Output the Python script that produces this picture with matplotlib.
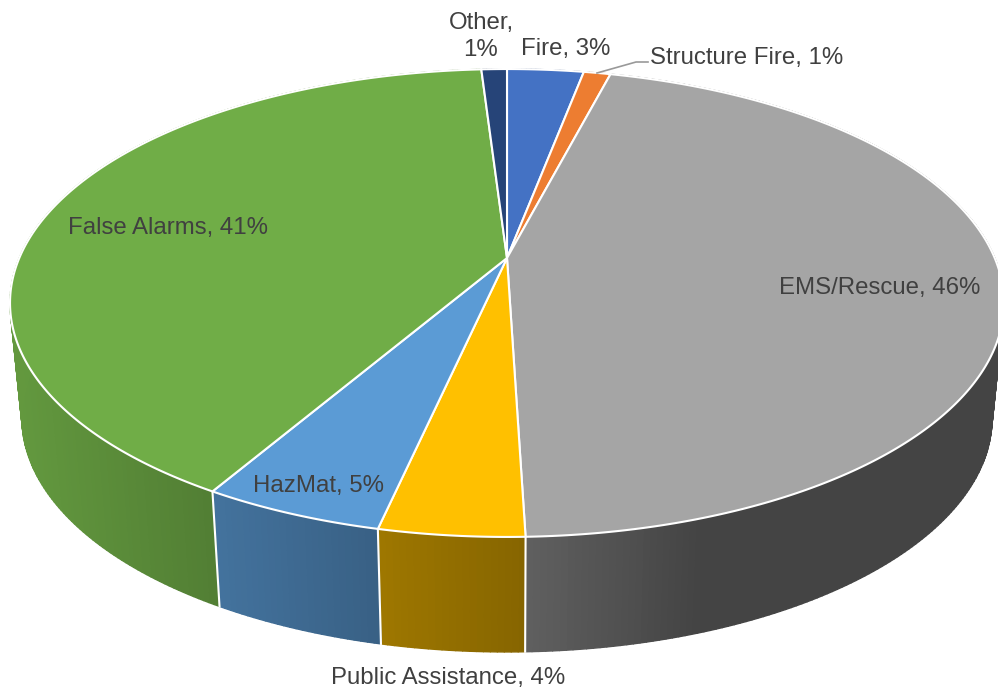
import numpy as np
import matplotlib
matplotlib.use("Agg")
import matplotlib.pyplot as plt

categories = ["Fire", "Structure Fire", "EMS/Rescue", "Public Assistance", "HazMat", "False Alarms", "Other"]
shares = [3.0, 1.05, 45.46, 3.94, 4.95, 40.6, 1.0]
pct_labels = ["3%", "1%", "46%", "4%", "5%", "41%", "1%"]
colors = ["#4472C4", "#ED7D31", "#A5A5A5", "#FFC000", "#5B9BD5", "#70AD47", "#264478"]

# wall shading: x positions (pixels) and brightness factors per slice
shade_x = [[0, 998], [0, 998], [525, 700, 998], [380, 525], [215, 380], [20, 215], [0, 998]]
shade_f = [[.6, .6], [.6, .6], [.58, .41, .41], [.62, .525], [.74, .62], [.88, .73], [.6, .6]]

# perspective parameters of the disc
CX, CY, A, B, K = 507.0, 258.0, 487.7, 225.3, 0.1923
DEPTH, SHRINK = 115.0, 0.976


def top_xy(theta):
    u, v = np.sin(theta), np.cos(theta)
    w = 1 + K * v
    return CX + A * u / w, CY - B * v / w


def bottom_xy(theta):
    x, y = top_xy(theta)
    return CX + SHRINK * (x - CX), y + DEPTH


def shade(color, f):
    return tuple(c * f for c in matplotlib.colors.to_rgb(color))


fig = plt.figure(figsize=(9.98, 6.92), dpi=100)
ax = fig.add_axes([0, 0, 1, 1])
ax.set_xlim(0, 998)
ax.set_ylim(692, 0)
ax.axis("off")

edges = np.concatenate([[0], np.cumsum(shares)]) / np.sum(shares) * 2 * np.pi

# side walls
for i, col in enumerate(colors):
    n = max(4, int(np.degrees(edges[i + 1] - edges[i]) * 1.5))
    ts = np.linspace(edges[i], edges[i + 1], n + 1)
    for a, b in zip(ts[:-1], ts[1:]):
        xa, ya = top_xy(a)
        xb, yb = top_xy(b)
        xc, yc = bottom_xy(b)
        xd, yd = bottom_xy(a)
        f = np.interp((xa + xb + xc + xd) / 4, shade_x[i], shade_f[i])
        c = shade(col, f)
        ax.fill([xa, xb, xc, xd], [ya, yb, yc, yd], facecolor=c, edgecolor=c, lw=1.0,
                joinstyle="round", zorder=2)

# separators on the wall
for e in edges[:-1]:
    x0, y0 = top_xy(e)
    x1, y1 = bottom_xy(e)
    ax.plot([x0, x1], [y0, y1], color="white", lw=1.5, zorder=3)

# top face
for i, col in enumerate(colors):
    n = max(6, int(np.degrees(edges[i + 1] - edges[i]) * 2))
    ts = np.linspace(edges[i], edges[i + 1], n + 1)
    xs, ys = top_xy(ts)
    ax.fill(np.r_[CX, xs], np.r_[CY, ys], facecolor=col, edgecolor="white", lw=1.5,
            joinstyle="round", zorder=4)

# leader line for the small slice
ax.plot([597, 636, 648], [73, 62, 62], color="#999999", lw=1.2, zorder=5)

font = dict(family="Liberation Sans", color="#404040", fontsize=17.3, ha="center", va="center", zorder=6)
label_pos = {
    "Fire": (566, 49),
    "Structure Fire": (747, 58),
    "EMS/Rescue": (880, 288),
    "Public Assistance": (448, 678),
    "HazMat": (319, 486),
    "False Alarms": (168, 228),
}
for name, pct in zip(categories, pct_labels):
    if name == "Other":
        ax.text(481, 23, f"{name},", **font)
        ax.text(481, 50, pct, **font)
    else:
        x, y = label_pos[name]
        ax.text(x, y, f"{name}, {pct}", **font)

fig.savefig("out.png", dpi=100)
